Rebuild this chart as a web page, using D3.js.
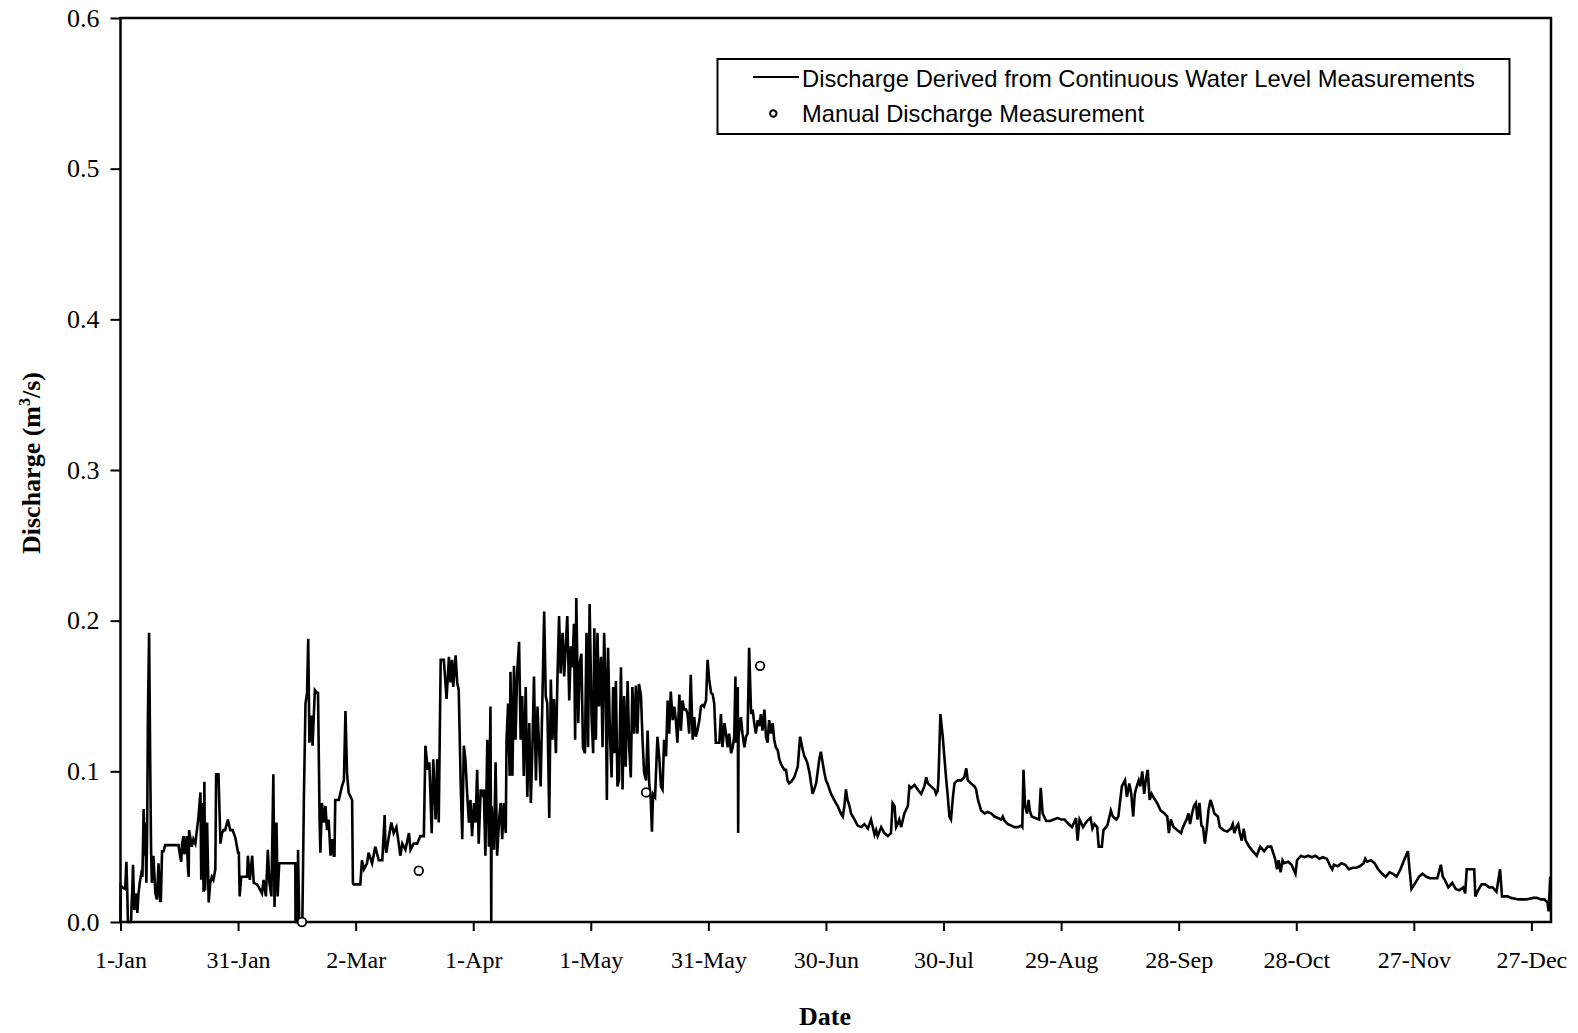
<!DOCTYPE html>
<html>
<head>
<meta charset="utf-8">
<script src="https://cdn.jsdelivr.net/npm/d3@7"></script>
<style>
  body { margin: 0; background: #fff; }
</style>
</head>
<body>
<div id="chart"></div>
<script>
// discharge derived from water level, [day of year, m3/s]
var janFeb = [[0,0],[0.05,0.024],[0.5,0.023],[1.2,0.022],[1.5,0.040],[1.7,0.023],[1.9,0],[2.7,0],[2.8,0.010],[3.0,0.021],
  [3.2,0.038],[3.5,0.008],[3.9,0.019],[4.3,0.006],[4.6,0.019],[4.9,0.026],[5.3,0.032],[5.6,0.030],[5.9,0.075],[6.2,0.044],
  [6.3,0.066],[6.6,0.026],[6.8,0.060],[7.0,0.138],[7.3,0.192],[7.6,0.100],[7.8,0.048],[8.0,0.026],[8.4,0.044],[8.9,0.019],
  [9.3,0.015],[9.7,0.039],[10.1,0.014],[10.3,0.014],[10.6,0.047],[11.0,0.047],[11.4,0.051],[14.8,0.051],[15.2,0.044],[15.5,0.040],
  [15.7,0.052],[16.1,0.057],[16.3,0.045],[16.5,0.048],[16.9,0.057],[17.2,0.036],[17.4,0.030],[17.5,0.061],[18.2,0.050],[18.6,0.055],
  [19.1,0.052],[19.5,0.061],[19.9,0.070],[20.4,0.086],[20.6,0.028],[20.9,0.079],[21.2,0.020],[21.4,0.093],[21.6,0.021],[21.9,0.050],
  [22.1,0.066],[22.5,0.013],[22.9,0.026],[23.3,0.030],[23.7,0.028],[24.2,0.035],[24.4,0.098],[25.0,0.098],[25.5,0.052],[25.9,0.059],
  [26.3,0.061],[26.7,0.061],[27.4,0.068],[28.0,0.061],[28.6,0.061],[29.3,0.056],[30.0,0.046],[30.2,0.046],[30.4,0.017],[30.8,0.030],
  [32.3,0.030],[32.5,0.044],[33.0,0.028],[33.6,0.044],[34.0,0.026],[34.8,0.025],[35.3,0.023],[36.1,0.019],[36.5,0.028],[37.1,0.017],
  [37.6,0.048],[38.0,0.026],[38.5,0.017],[39.0,0.098],[39.3,0.010],[39.8,0.066],[40.1,0.017],[40.5,0.039],[44.6,0.039],[44.65,0],
  [45.2,0],[45.3,0.048],[45.6,0],[46.4,0],[46.8,0.083],[47.2,0.145],[47.6,0.152],[47.9,0.188],[48.2,0.119],[48.7,0.137],
  [49.0,0.117],[49.6,0.154],[50.2,0.152],[50.4,0.152],[50.8,0.068],[51.0,0.046],[51.4,0.079],[51.9,0.066],[52.3,0.077],[52.7,0.061],
  [53.1,0.068],[53.6,0.044],[54.0,0.055],[54.4,0.044],[54.6,0.044],[54.8,0.081],[55.7,0.081],[56.5,0.090],[57.0,0.094],[57.4,0.140],
  [57.8,0.099],[58.2,0.086],[59.1,0.081]];

var marApr = [[59.3,0.026],[59.5,0.025],[61.2,0.025],[61.6,0.041],[62.1,0.035],[62.9,0.039],[63.3,0.046],[64.2,0.039],[65.0,0.050],
  [65.9,0.041],[66.8,0.041],[67.4,0.071],[67.6,0.050],[67.8,0.046],[68.5,0.057],[69.1,0.066],[69.7,0.059],[70.4,0.063],[71.0,0.052],
  [71.4,0.044],[71.9,0.052],[72.7,0.048],[73.6,0.059],[74.0,0.048],[74.8,0.052],[75.7,0.052],[76.5,0.057],[77.4,0.057],[77.8,0.117],
  [78.4,0.101],[78.8,0.106],[79.4,0.059],[79.8,0.108],[80.4,0.068],[80.8,0.108],[81.2,0.066],[81.7,0.174],[82.5,0.174],[83.2,0.148],
  [83.8,0.176],[84.2,0.159],[84.6,0.174],[84.9,0.156],[85.5,0.177],[85.9,0.159],[86.3,0.154],[86.8,0.092],[87.2,0.055],[87.6,0.117],
  [88.0,0.108],[88.5,0.083],[88.9,0.066],[89.3,0.081],[89.7,0.057],[90.2,0.079],[90.6,0.066],[91.0,0.101],[91.4,0.052],[91.9,0.088],
  [92.3,0.083],[92.7,0.088],[93.1,0.044],[93.6,0.121],[94.0,0.050],[94.4,0.143],[94.6,0],[94.7,0.077],[95.3,0.048],[95.7,0.106],
  [96.1,0.044],[96.6,0.068],[97.0,0.079],[97.4,0.055],[97.8,0.079],[98.3,0.059],[98.5,0.121],[98.9,0.145],[99.3,0.097],[99.5,0.166],
  [100.0,0.097],[100.4,0.170],[100.8,0.121],[101.2,0.165],[101.7,0.186],[102.1,0.121],[102.5,0.150],[102.9,0.097],[103.4,0.156],[103.8,0.083],
  [104.3,0.132],[104.7,0.079],[105.1,0.116],[105.5,0.163],[106.0,0.094],[106.4,0.143],[106.8,0.116],[107.2,0.090],[107.7,0.154],[108.1,0.206],
  [108.5,0.150],[108.9,0.145],[109.4,0.069],[109.8,0.161],[110.2,0.121],[110.6,0.148],[111.1,0.112],[111.5,0.163],[111.9,0.203],[112.3,0.165],
  [112.8,0.192],[113.2,0.163],[113.6,0.183],[114.0,0.203],[114.5,0.147],[114.9,0.183],[115.3,0.169],[115.7,0.198],[116.0,0.121],[116.3,0.215],
  [116.8,0.132],[117.2,0.172],[117.6,0.178],[118.0,0.116],[118.5,0.112],[118.9,0.192],[119.3,0.116],[119.7,0.211]];

var mayJun = [[120.2,0.136],[120.6,0.112],[120.9,0.195],[121.3,0.121],[121.7,0.192],[122.1,0.143],[122.6,0.176],[123.0,0.116],[123.4,0.192],
  [123.8,0.156],[124.1,0.081],[124.4,0.182],[124.9,0.123],[125.3,0.096],[125.7,0.156],[126.0,0.112],[126.4,0.160],[126.8,0.090],[127.2,0.094],
  [127.7,0.169],[128.1,0.088],[128.5,0.150],[128.9,0.103],[129.4,0.160],[129.8,0.116],[130.2,0.096],[130.6,0.156],[131.1,0.125],[131.5,0.157],
  [131.9,0.125],[132.3,0.158],[132.8,0.150],[133.2,0.121],[133.6,0.099],[134.1,0.094],[134.5,0.127],[134.9,0.092],[135.3,0.081],[135.6,0.060],
  [135.9,0.085],[136.4,0.083],[137.0,0.123],[137.5,0.108],[137.9,0.090],[138.3,0.088],[138.7,0.121],[139.2,0.110],[139.6,0.147],[140.0,0.125],
  [140.4,0.153],[140.9,0.134],[141.3,0.143],[141.7,0.134],[142.1,0.119],[142.6,0.151],[143.0,0.127],[143.4,0.147],[143.8,0.141],[144.3,0.141],
  [144.7,0.138],[145.1,0.125],[145.5,0.164],[146.0,0.121],[146.4,0.136],[146.8,0.123],[147.2,0.127],[147.7,0.134],[148.1,0.143],[148.5,0.144],
  [148.9,0.143],[149.4,0.147],[149.8,0.174],[150.2,0.161],[150.7,0.152],[151.1,0.151],[151.5,0.145],[151.9,0.119],[152.4,0.119],[152.8,0.119],
  [153.2,0.138],[153.6,0.116],[154.1,0.132],[154.5,0.125],[154.9,0.116],[155.3,0.125],[155.8,0.112],[156.2,0.116],[156.6,0.123],[156.9,0.163],
  [157.0,0.119],[157.5,0.156],[157.6,0.059],[157.7,0.123],[158.3,0.136],[158.7,0.125],[159.2,0.116],[159.6,0.123],[160.0,0.125],[160.4,0.182],
  [160.9,0.138],[161.3,0.141],[161.7,0.132],[162.1,0.125],[162.6,0.134],[163.0,0.130],[163.4,0.138],[163.8,0.127],[164.3,0.141],[164.7,0.123],
  [165.1,0.119],[165.5,0.134],[166.0,0.125],[166.4,0.132],[166.8,0.121],[167.2,0.116],[167.7,0.114],[168.1,0.108],[168.5,0.105],[168.9,0.103],
  [169.4,0.101],[169.8,0.101],[170.2,0.094],[170.6,0.092],[171.1,0.093],[171.9,0.096],[172.8,0.103],[173.4,0.123],[174.1,0.114],[174.5,0.110],
  [174.9,0.108],[175.3,0.105],[175.8,0.099],[176.2,0.092],[176.6,0.085],[177.0,0.088],[177.5,0.092],[178.3,0.108],[178.7,0.113],[179.2,0.105],
  [179.6,0.099],[180.0,0.094]];

var julAug = [[180.4,0.092],[180.9,0.088],[181.3,0.085],[181.7,0.083],[182.1,0.081],[183.0,0.077],[183.8,0.072],[184.3,0.070],[184.7,0.077],
  [185.1,0.088],[185.5,0.081],[186.0,0.077],[186.4,0.072],[187.3,0.068],[188.1,0.064],[189.0,0.063],[189.8,0.065],[190.7,0.062],[191.5,0.068],
  [192.4,0.058],[192.8,0.061],[193.2,0.057],[194.1,0.063],[194.9,0.059],[195.8,0.057],[196.6,0.059],[197.0,0.079],[197.5,0.077],[197.9,0.063],
  [198.3,0.065],[198.7,0.068],[199.2,0.063],[200.0,0.072],[200.9,0.077],[201.3,0.090],[201.7,0.089],[202.6,0.091],[203.4,0.088],[204.3,0.085],
  [205.1,0.090],[205.6,0.096],[206.0,0.092],[206.8,0.090],[207.7,0.088],[208.1,0.085],[208.5,0.087],[208.7,0.094],[209.2,0.138],[209.8,0.123],
  [210.2,0.110],[210.7,0.094],[211.1,0.083],[211.5,0.070],[211.9,0.068],[212.4,0.083],[212.8,0.092],[213.6,0.094],[214.5,0.094],[215.3,0.096],
  [215.8,0.102],[216.2,0.094],[217.0,0.092],[217.9,0.090],[218.3,0.088],[218.8,0.081],[219.6,0.074],[220.5,0.072],[221.3,0.073],[222.2,0.072],
  [223.0,0.070],[223.9,0.069],[224.7,0.068],[225.1,0.070],[225.6,0.067],[226.4,0.065],[227.3,0.064],[228.1,0.063],[229.0,0.063],[229.8,0.064],
  [230.1,0.063],[230.4,0.101],[230.8,0.077],[231.3,0.072],[231.7,0.081],[232.0,0.074],[232.5,0.070],[233.4,0.069],[234.4,0.068],[234.8,0.089],
  [235.3,0.072],[236.2,0.067],[237.2,0.067],[238.1,0.068],[239.1,0.069],[240.0,0.068],[240.9,0.068],[241.9,0.065],[242.8,0.063]];

var sepOct = [[243.8,0.069],[244.2,0.054],[244.7,0.068],[245.6,0.063],[246.6,0.067],[247.5,0.069],[248.0,0.062],[248.5,0.065],[249.2,0.063],
  [249.6,0.050],[250.4,0.050],[250.8,0.061],[251.8,0.064],[252.7,0.074],[253.2,0.070],[254.1,0.068],[254.6,0.070],[255.1,0.081],[255.5,0.090],
  [256.3,0.094],[256.8,0.083],[257.4,0.092],[257.9,0.085],[258.4,0.070],[258.8,0.085],[259.3,0.090],[259.8,0.094],[260.2,0.090],[260.7,0.100],
  [261.2,0.085],[261.6,0.094],[262.1,0.101],[262.6,0.081],[263.1,0.085],[263.5,0.083],[264.5,0.079],[265.4,0.074],[266.4,0.072],[267.1,0.070],
  [267.5,0.059],[268.0,0.068],[268.7,0.063],[269.6,0.061],[270.6,0.059],[271.1,0.063],[272.0,0.068],[272.5,0.072],[272.9,0.065],[273.4,0.072],
  [273.9,0.077],[274.4,0.079],[274.8,0.068],[275.3,0.079],[275.8,0.064],[276.2,0.063],[276.7,0.052],[277.2,0.063],[277.6,0.074],[278.1,0.081],
  [278.6,0.077],[279.1,0.072],[280.0,0.070],[280.5,0.063],[281.4,0.061],[282.4,0.060],[283.3,0.062],[283.8,0.065],[284.2,0.059],[284.7,0.063],
  [285.2,0.065],[285.6,0.059],[286.1,0.054],[286.6,0.062],[287.1,0.054],[288.0,0.050],[288.9,0.047],[289.9,0.044],[290.8,0.050],[291.8,0.047],
  [292.7,0.050],[293.6,0.050],[294.6,0.042],[295.1,0.035],[295.5,0.041],[296.0,0.033],[296.5,0.041],[296.9,0.039],[297.9,0.040],[298.8,0.038],
  [299.8,0.032],[300.2,0.041],[301.2,0.044],[302.1,0.043],[303.1,0.044]];

var novDec = [[304.0,0.043],[304.9,0.044],[305.9,0.042],[306.8,0.043],[307.8,0.042],[308.7,0.037],[309.2,0.035],[309.6,0.038],[310.6,0.037],
  [311.5,0.039],[312.5,0.038],[313.4,0.035],[314.4,0.036],[315.3,0.036],[316.2,0.037],[317.2,0.039],[317.6,0.042],[318.1,0.040],[319.1,0.041],
  [320.0,0.039],[320.9,0.035],[321.9,0.032],[322.8,0.030],[323.8,0.033],[324.7,0.032],[325.6,0.030],[326.6,0.035],[327.5,0.041],[328.5,0.047],
  [328.9,0.035],[329.4,0.022],[330.4,0.026],[331.3,0.030],[332.2,0.032],[333.2,0.030],[334.1,0.029],[335.1,0.029],[336.0,0.029],[336.9,0.038],
  [337.4,0.030],[337.9,0.028],[338.8,0.023],[339.8,0.026],[340.7,0.022],[341.6,0.021],[342.6,0.023],[343.1,0.019],[343.5,0.035],[345.4,0.035],
  [345.7,0.017],[346.4,0.021],[347.3,0.025],[348.2,0.025],[349.2,0.023],[350.1,0.023],[351.1,0.020],[352.0,0.035],[352.5,0.017],[353.9,0.017],
  [354.8,0.016],[356.7,0.015],[358.6,0.015],[360.5,0.016],[361.4,0.016],[362.4,0.015],[363.3,0.015],[364.1,0.013],[364.4,0.007],[364.8,0.030]];

// manual discharge measurements
var manual = [[46.3,0.000],[76.1,0.034],[134.1,0.086],[163.2,0.170]];

var xTickDays = [0,30,60,90,120,150,180,210,240,270,300,330,360];
var yTicks = [0,0.1,0.2,0.3,0.4,0.5,0.6];

var margin = {top: 18, right: 27, bottom: 111, left: 120.5},
    width = 1578 - margin.left - margin.right,
    height = 1033 - margin.top - margin.bottom;

var yearStart = Date.UTC(2007, 0, 1);
var toDate = function(d) { return new Date(yearStart + d * 864e5); };

var root = d3.select("#chart")
  .append("svg")
    .attr("width", 1578)
    .attr("height", 1033);

var svg = root.append("g")
    .attr("transform", "translate(" + margin.left + "," + margin.top + ")");

var x = d3.scaleUtc()
  .domain([toDate(0), toDate(365)])
  .range([0, width]);

var y = d3.scaleLinear()
  .domain([0, 0.6])
  .range([height, 0]);

// Y axis
var yAxis = svg.append("g")
  .call(d3.axisLeft(y).tickValues(yTicks).tickFormat(d3.format(".1f")).tickSize(10).tickPadding(11));
yAxis.select(".domain").remove();
yAxis.selectAll("line").attr("stroke-width", 2);
yAxis.selectAll("text")
  .attr("font-family", "'Liberation Serif', 'Times New Roman', serif")
  .attr("font-size", 26)
  .attr("fill", "#000");

// X axis
var xAxis = svg.append("g")
  .attr("transform", "translate(0," + height + ")")
  .call(d3.axisBottom(x).tickValues(xTickDays.map(toDate)).tickFormat(d3.utcFormat("%-d-%b")).tickSize(9).tickPadding(20));
xAxis.select(".domain").remove();
xAxis.selectAll("line").attr("stroke-width", 2);
xAxis.selectAll("text")
  .attr("font-family", "'Liberation Serif', 'Times New Roman', serif")
  .attr("font-size", 24)
  .attr("fill", "#000");

// the discharge line
var allFlow = janFeb.concat(marApr, mayJun, julAug, sepOct, novDec);
svg.append("path")
  .datum(allFlow)
  .attr("fill", "none")
  .attr("stroke", "black")
  .attr("stroke-width", 2.6)
  .attr("d", d3.line()
    .x(function(d) { return x(toDate(d[0])); })
    .y(function(d) { return y(d[1]); }));

// plot frame
svg.append("rect")
  .attr("width", width)
  .attr("height", height)
  .attr("fill", "none")
  .attr("stroke", "black")
  .attr("stroke-width", 2.5);

// manual measurements
svg.append("g")
  .selectAll("circle")
  .data(manual)
  .enter()
  .append("circle")
    .attr("cx", function(d) { return x(toDate(d[0])); })
    .attr("cy", function(d) { return y(d[1]); })
    .attr("r", 4.3)
    .attr("fill", "white")
    .attr("stroke", "black")
    .attr("stroke-width", 1.8);

// axis titles
root.append("text")
  .attr("x", 825)
  .attr("y", 1025)
  .attr("text-anchor", "middle")
  .attr("font-family", "'Liberation Serif', 'Times New Roman', serif")
  .attr("font-weight", "bold")
  .attr("font-size", 26)
  .text("Date");

var yTitle = root.append("text")
  .attr("transform", "translate(40,463) rotate(-90)")
  .attr("text-anchor", "middle")
  .attr("font-family", "'Liberation Serif', 'Times New Roman', serif")
  .attr("font-weight", "bold")
  .attr("font-size", 26);
yTitle.append("tspan").text("Discharge (m");
yTitle.append("tspan").attr("dy", -10).attr("font-size", 16).text("3");
yTitle.append("tspan").attr("dy", 10).text("/s)");

// legend
var legend = root.append("g");
legend.append("rect")
  .attr("x", 717.5).attr("y", 59)
  .attr("width", 792).attr("height", 75)
  .attr("fill", "white").attr("stroke", "black").attr("stroke-width", 2);
legend.append("line")
  .attr("x1", 753).attr("x2", 799).attr("y1", 77).attr("y2", 77)
  .attr("stroke", "black").attr("stroke-width", 2);
legend.append("circle")
  .attr("cx", 773.3).attr("cy", 113.5).attr("r", 3.2)
  .attr("fill", "white").attr("stroke", "black").attr("stroke-width", 2);
legend.append("text")
  .attr("x", 802).attr("y", 86.5)
  .attr("font-family", "'Liberation Sans', Arial, sans-serif")
  .attr("font-size", 24)
  .attr("textLength", 673).attr("lengthAdjust", "spacingAndGlyphs")
  .text("Discharge Derived from Continuous Water Level Measurements");
legend.append("text")
  .attr("x", 802).attr("y", 122.3)
  .attr("font-family", "'Liberation Sans', Arial, sans-serif")
  .attr("font-size", 24)
  .attr("textLength", 342).attr("lengthAdjust", "spacingAndGlyphs")
  .text("Manual Discharge Measurement");
</script>
</body>
</html>
